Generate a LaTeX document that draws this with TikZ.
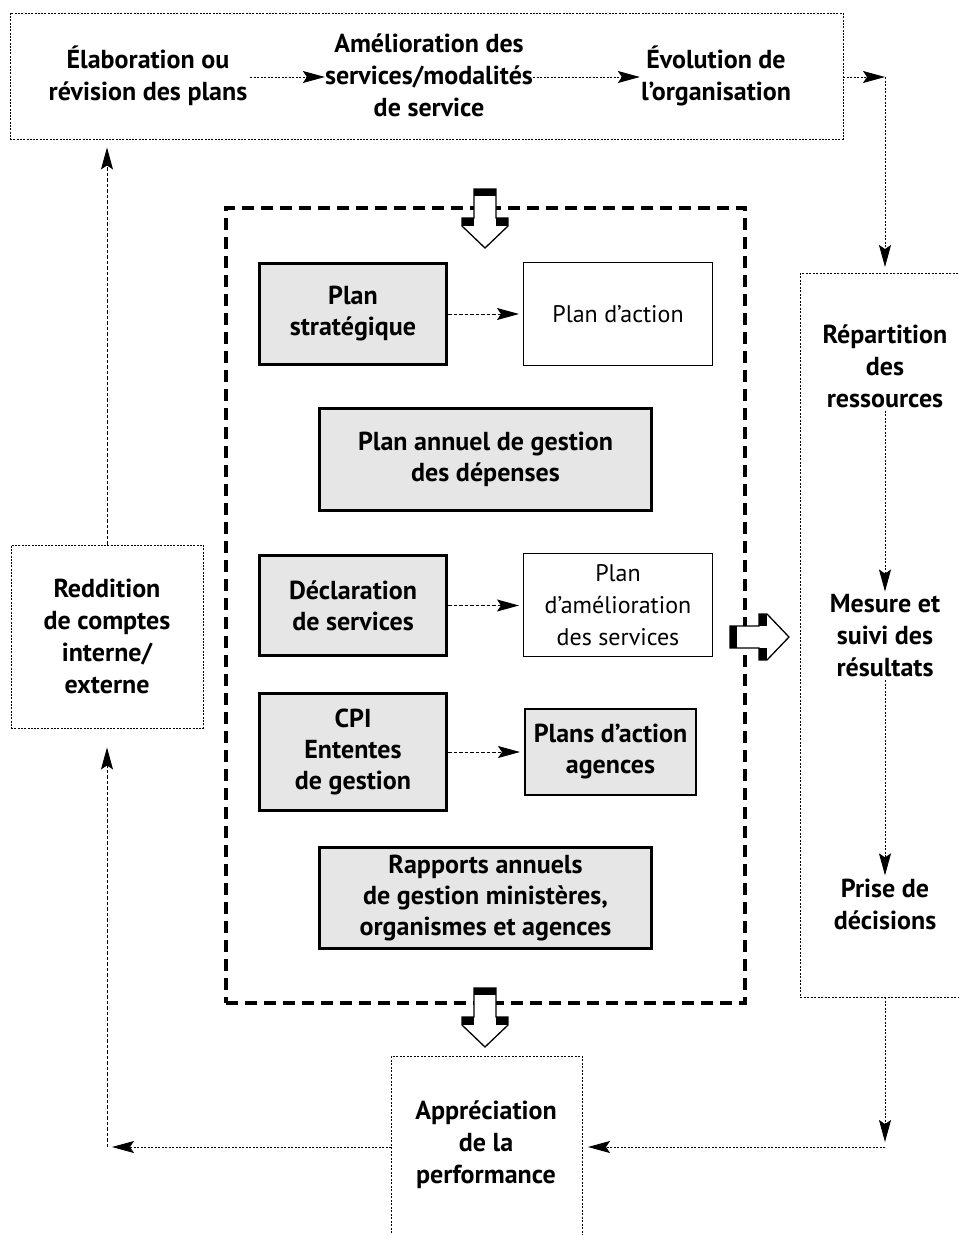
\documentclass[tikz,border=0pt]{standalone}
\usepackage{fontspec}
\setmainfont{PT Sans}
\usetikzlibrary{arrows.meta}
\definecolor{boxgray}{RGB}{230,230,230}
\tikzset{
  every node/.style={font=\fontsize{24}{32}\selectfont, align=center},
  lbl/.style={font=\fontsize{26}{32}\selectfont\bfseries, inner sep=3pt},
  gbox/.style={draw, line width=3pt, fill=boxgray, font=\fontsize{26}{31}\selectfont\bfseries, inner sep=1pt},
  wbox/.style={draw, line width=1pt, fill=white, inner sep=1pt},
  dotbox/.style={draw, line width=0.9pt, dash pattern=on 2pt off 1.3pt},
  bigdash/.style={draw, line width=4pt, dash pattern=on 12pt off 7pt},
  conn/.style={line width=0.9pt, dash pattern=on 2pt off 1.5pt},
  conn2/.style={line width=1pt, dash pattern=on 3.5pt off 2pt},
  arr/.style={-{Stealth[length=22pt,width=12pt,inset=4pt]}},
  hollow/.pic={
    \fill[white] (-11,0) -- (11,0) -- (11,29) -- (23,29) -- (23,37) -- (0,59) -- (-23,37) -- (-23,29) -- (-11,29) -- cycle;
    \fill[black] (-11,0) rectangle (11,7);
    \fill[black] (-23,29) rectangle (-11,37);
    \fill[black] (11,29) rectangle (23,37);
    \draw[line width=1.3pt, line join=miter] (-11,0) -- (11,0) -- (11,29) -- (23,29) -- (23,37) -- (0,59) -- (-23,37) -- (-23,29) -- (-11,29) -- cycle;
  }
}
\begin{document}
\begin{tikzpicture}[x=1pt, y=-1pt]
\useasboundingbox (0,0) rectangle (959,1235);

% top box
\node[dotbox, minimum width=833pt, minimum height=126pt] (topbox) at (426.5,76) {};
\node[lbl] (elab) at (148,76) {Élaboration ou\\révision des plans};
\node[lbl, inner sep=0pt] (amel) at (429,75) {Amélioration des\\services/modalités\\de service};
\node[lbl, inner sep=1pt] (evol) at (716,76) {Évolution de\\l’organisation};
\draw[conn, arr] (elab.east |- 0,77) -- (amel.west |- 0,77);
\draw[conn, arr] (amel.east |- 0,77) -- (evol.west |- 0,77);

% big dashed box
\node[bigdash, minimum width=519pt, minimum height=795pt] (bigbox) at (485.5,605.5) {};

% inner boxes
\node[gbox, minimum width=187pt, minimum height=101pt] (strat) at (353,314) {Plan\\stratégique};
\node[wbox, minimum width=189pt, minimum height=103pt] (action) at (618,314) {Plan d’action};
\node[gbox, minimum width=332pt, minimum height=102pt] (annuel) at (485.5,459.5) {Plan annuel de gestion\\des dépenses};
\node[gbox, minimum width=187pt, minimum height=100pt] (decl) at (353,605.5) {Déclaration\\de services};
\node[wbox, minimum width=189pt, minimum height=103pt] (amelio) at (618,605) {Plan\\d’amélioration\\des services};
\node[gbox, minimum width=187pt, minimum height=117pt] (cpi) at (353,752) {CPI\\Ententes\\de gestion};
\node[gbox, line width=2pt, minimum width=171pt, minimum height=86pt] (agences) at (610.5,752) {Plans d’action\\agences};
\node[gbox, minimum width=332pt, minimum height=101pt] (rapports) at (485.5,898) {Rapports annuels\\de gestion ministères,\\organismes et agences};

\draw[conn2, arr, shorten >=4pt] (strat.east) -- (action.west);
\draw[conn2, arr, shorten >=4pt] (decl.east) -- (amelio.west |- decl.east);
\draw[conn2, arr, shorten >=4pt] (cpi.east) -- (agences.west);

% hollow arrows
\pic at (485,189) {hollow};
\pic at (485,988) {hollow};
\pic[rotate=90] at (730,637) {hollow};

% right open box
\draw[conn] (965,273) -- (800,273) -- (800,997) -- (965,997);
\coordinate (rtop) at (885,273);
\coordinate (rbot) at (885,997);
\node[lbl] (rep) at (885,366) {Répartition\\des\\ressources};
\node[lbl] (mes) at (885,636) {Mesure et\\suivi des\\résultats};
\node[lbl] (prise) at (885,904) {Prise de\\décisions};
\draw[conn, arr] (rep.south) -- (mes.north);
\draw[conn, arr] (mes.south) -- (prise.north);

% top-right connector
\coordinate (c1) at (885,77);
\draw[conn, arr] (topbox.east |- c1) -- (c1);
\draw[conn, arr, shorten >=6pt] (c1) -- (rtop);

% bottom appreciation open box
\draw[conn] (391,1240) -- (391,1056) -- (582,1056) -- (582,1240);
\node[lbl] (appr) at (486,1145) {Appréciation\\de la\\performance};
\coordinate (apprL) at (391,1147);
\coordinate (apprR) at (582,1147);
\coordinate (c3) at (885,1147);
\coordinate (c4) at (107,1147);
\draw[conn, arr, shorten >=5pt] (rbot) -- (c3);
\draw[conn, arr, shorten >=6pt] (c3) -- (apprR);

% left reddition box
\node[dotbox, minimum width=192pt, minimum height=183pt] (redd) at (107,636.5) {};
\node[lbl] at (redd.center) (reddtxt) {Reddition\\de comptes\\interne/\\externe};
\draw[conn, arr, shorten >=5pt] (apprL) -- (c4);
\draw[conn2, arr, shorten >=19pt] (c4) -- (redd.south);
\draw[conn2, arr, shorten >=8pt] (redd.north) -- (redd.north |- topbox.south);
\end{tikzpicture}
\end{document}
